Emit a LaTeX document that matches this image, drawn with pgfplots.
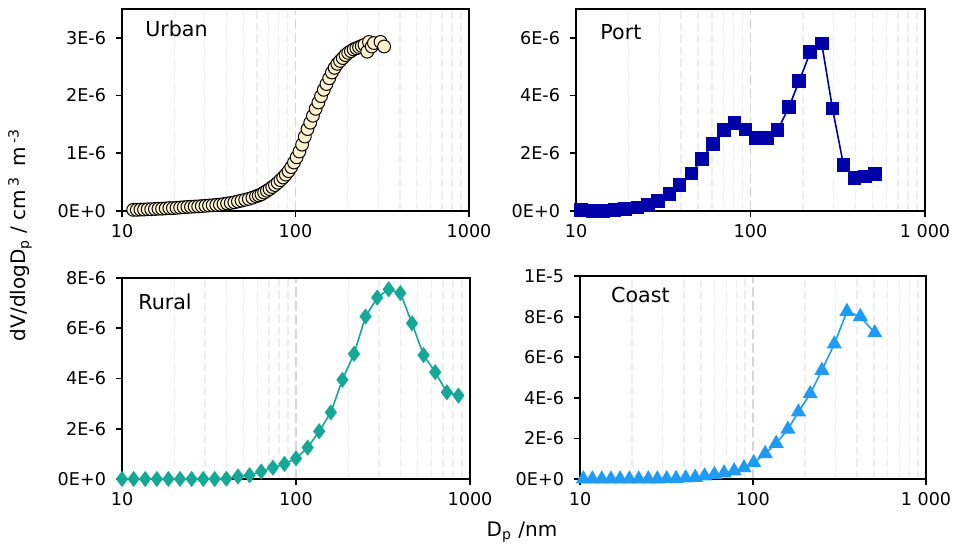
\documentclass[border=0pt]{standalone}
\usepackage{pgfplots}
\pgfplotsset{compat=1.18}
\usepackage{fontspec}
\setmainfont{DejaVu Sans}

\definecolor{urbanfill}{HTML}{FFF2CC}
\definecolor{portblue}{HTML}{0000A8}
\definecolor{ruralteal}{HTML}{16A896}
\definecolor{coastblue}{HTML}{1F9BF5}

% values of dV/dlogDp in units of 1E-6 cm3 m-3
\pgfplotsset{
  every axis/.append style={
    scale only axis,
    xmin=10, xmax=1000, ymin=0,
    xtick={10,100,1000},
    minor xtick={20,30,40,50,60,70,80,90,200,300,400,500,600,700,800,900},
    xmajorgrids, xminorgrids,
    major grid style={color=black!16, dash pattern=on 5pt off 2pt, line width=0.9pt},
    minor grid style={color=black!7, dash pattern=on 4pt off 2pt, line width=0.7pt},
    axis line style={line width=1pt},
    tick pos=left, tick align=outside,
    major tick length=3pt, minor tick length=0pt,
    major tick style={black, line width=0.9pt},
    tick label style={font=\fontsize{8.8}{10}\selectfont},
    yticklabel style={xshift=-1.5pt},
    clip=false,
  },
}
\tikzset{sdttl/.style={anchor=west, inner sep=0pt, font=\fontsize{10.3}{12}\selectfont}}

\begin{document}
\begin{tikzpicture}
\path[use as bounding box] (0,0) rectangle (480.5pt,276pt);

% Urban
\begin{semilogxaxis}[anchor=south west, at={(61pt,170.5pt)}, width=173.5pt, height=101pt,
  ymax=3.5, ytick={0,1,2,3}, yticklabels={0E+0,1E-6,2E-6,3E-6},
  xticklabels={10,100,1000}]
\addplot[only marks, mark=*, mark size=3.2pt,
  mark options={fill=urbanfill, draw=black, line width=0.5pt}] coordinates {
(11.60,0.02)(12.17,0.02)(12.77,0.025)(13.39,0.025)(14.05,0.03)(14.74,0.03)
(15.47,0.035)(16.23,0.04)(17.02,0.04)(17.86,0.045)(18.74,0.05)(19.66,0.05)
(20.62,0.055)(21.63,0.06)(22.70,0.065)(23.81,0.07)(24.98,0.073)(26.21,0.077)
(27.49,0.08)(28.84,0.085)(30.26,0.09)(31.75,0.095)(33.31,0.10)(34.94,0.105)
(36.66,0.11)(38.46,0.12)(40.34,0.13)(42.33,0.14)(44.40,0.15)(46.58,0.165)
(48.87,0.18)(51.27,0.195)(53.79,0.21)(56.43,0.23)
(59.20,0.255)(61.37,0.27)(63.62,0.29)(65.95,0.32)(68.37,0.35)(70.87,0.38)
(73.47,0.415)(76.16,0.45)(78.95,0.49)(81.84,0.535)(84.84,0.58)(87.95,0.63)
(91.17,0.69)(94.51,0.76)(97.97,0.84)(101.56,0.93)(105.28,1.03)(109.14,1.15)
(113.14,1.29)(117.28,1.42)(121.58,1.53)(126.03,1.65)(130.65,1.77)(135.44,1.88)
(140.40,1.99)(145.54,2.10)(150.87,2.20)(156.40,2.30)(162.13,2.40)(168.07,2.48)
(174.23,2.55)(180.61,2.60)(187.23,2.65)(194.09,2.70)(201.20,2.74)(208.57,2.77)
(216.21,2.80)(224.13,2.82)(232.34,2.84)(240.85,2.86)(249.67,2.88)
(259,2.76)(265,2.93)(275,2.85)(283,2.91)(309,2.93)(324,2.85)
};
\node[sdttl] at (rel axis cs:0.066,0.90) {Urban};
\end{semilogxaxis}

% Port
\begin{semilogxaxis}[anchor=south west, at={(288pt,170.5pt)}, width=174.5pt, height=101pt,
  ymax=7, ytick={0,2,4,6}, yticklabels={0E+0,2E-6,4E-6,6E-6},
  xticklabels={10,100,1 000}]
\addplot[portblue, line width=0.8pt, mark=square*, mark size=3pt,
  mark options={fill=portblue, draw=portblue}] coordinates {
(10.7,0.03)(12.4,0.0)(14.3,0.0)(16.6,0.03)(19.1,0.07)(22.5,0.12)(25.9,0.2)
(29.5,0.34)(34.3,0.58)(39.2,0.9)(45.8,1.3)(52.7,1.8)(60.9,2.33)(70.4,2.8)
(81.1,3.05)(93.6,2.83)(107,2.53)(124,2.53)(143,2.8)(166,3.6)(190,4.5)
(220,5.5)(256,5.8)(295,3.55)(341,1.6)(394,1.15)(454,1.2)(518,1.28)
};
\node[sdttl] at (rel axis cs:0.069,0.886) {Port};
\end{semilogxaxis}

% Rural
\begin{semilogxaxis}[anchor=south west, at={(61pt,36.5pt)}, width=174pt, height=100.5pt,
  ymax=8, ytick={0,2,4,6,8}, yticklabels={0E+0,2E-6,4E-6,6E-6,8E-6},
  xticklabels={10,100,1000}]
\addplot[ruralteal, line width=0.8pt, mark=diamond*, mark size=3.4pt,
  mark options={fill=ruralteal, draw=ruralteal}] coordinates {
(10,0)(11.66,0)(13.59,0)(15.85,0)(18.48,0)(21.54,0)(25.1,0)(29.3,0)(34.1,0)
(39.8,0.01)(46.4,0.1)(54.1,0.15)(63.1,0.3)(73.6,0.45)(85.8,0.6)(100,0.82)
(116.6,1.25)(135.9,1.9)(158.5,2.65)(184.8,3.95)(215.4,4.98)(251,6.47)
(293,7.22)(341,7.55)(398,7.4)(464,6.2)(541,4.93)(631,4.25)(736,3.45)(858,3.32)
};
\node[sdttl] at (rel axis cs:0.046,0.88) {Rural};
\end{semilogxaxis}

% Coast
\begin{semilogxaxis}[anchor=south west, at={(290pt,36.5pt)}, width=173pt, height=101.5pt,
  ymax=10, ytick={0,2,4,6,8,10}, yticklabels={0E+0,2E-6,4E-6,6E-6,8E-6,1E-5},
  xticklabels={10,100,1 000}]
\addplot[coastblue, line width=0.8pt, mark=triangle*, mark size=3.6pt,
  mark options={fill=coastblue, draw=coastblue}] coordinates {
(10.45,0)(11.78,0)(13.35,0)(15.1,0)(17.05,0)(19.3,0)(21.85,0)(24.8,0)(28.0,0)
(31.7,0.01)(35.9,0.02)(40.8,0.05)(46.3,0.08)(52.5,0.15)(59.8,0.22)(68.0,0.3)
(77.8,0.4)(88.7,0.55)(100.9,0.8)(117.6,1.25)(136.1,1.75)(159,2.45)(183,3.3)
(214,4.2)(250,5.35)(295,6.65)(349,8.25)(417,8.0)(505,7.2)
};
\node[sdttl] at (rel axis cs:0.089,0.906) {Coast};
\end{semilogxaxis}

\node[rotate=90, font=\fontsize{10}{12}\selectfont] at (10pt,158.5pt)
  {dV/dlogD\textsubscript{p} / cm\,\textsuperscript{3}\, m\,\textsuperscript{-3}};
\node[font=\fontsize{10}{12}\selectfont] at (261pt,10pt) {D\textsubscript{p} /nm};
\end{tikzpicture}
\end{document}
